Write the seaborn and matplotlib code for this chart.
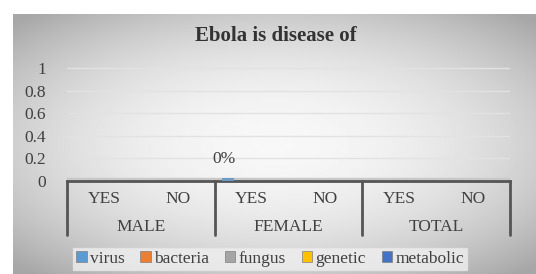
import numpy as np
import pandas as pd
import matplotlib
matplotlib.use("Agg")
import matplotlib.pyplot as plt
import seaborn as sns
from matplotlib.patches import Patch
import matplotlib.transforms as mtransforms

# data
groups = ["MALE", "FEMALE", "TOTAL"]
answers = ["YES", "NO"]
series = ["virus", "bacteria", "fungus", "genetic", "metabolic"]
virus = [0, 0, 0.025, 0, 0, 0]
bacteria = [0, 0, 0, 0, 0, 0]
fungus = [0, 0, 0, 0, 0, 0]
genetic = [0, 0, 0, 0, 0, 0]
metabolic = [0, 0, 0, 0, 0, 0]
colors = ["#5B9BD5", "#ED7D31", "#A5A5A5", "#FFC000", "#4472C4"]

cats = [g + " " + a for g in groups for a in answers]
rows = []
for name, vals in zip(series, [virus, bacteria, fungus, genetic, metabolic]):
    for c, v in zip(cats, vals):
        rows.append({"cat": c, "series": name, "value": v})
df = pd.DataFrame(rows)

sns.set_style("white")
plt.rcParams['font.family'] = ['Liberation Serif', 'DejaVu Serif']

fs = 12.5
fig = plt.figure(figsize=(5.36, 2.74), dpi=100)

# gray gradient panel behind everything
bg = fig.add_axes([13 / 536, 0, 523 / 536, 260 / 274], zorder=-10)
yy, xx = np.mgrid[-1:1:200j, -1:1:400j]
r = np.sqrt((xx * 0.85) ** 2 + (yy * 0.9) ** 2)
bg.imshow(0.97 - 0.22 * np.clip(r, 0, 1.2) ** 2, cmap="gray", vmin=0, vmax=1,
          aspect="auto", extent=[0, 1, 0, 1])
bg.set_axis_off()

ax = fig.add_axes([67 / 536, 1 - 181 / 274, 443 / 536, 121 / 274])
ax.patch.set_alpha(0)
sns.barplot(data=df, x="cat", y="value", hue="series", palette=colors,
            order=cats, hue_order=series, width=0.8, ax=ax, legend=False,
            edgecolor="none", linewidth=0, zorder=3)
ax.axhspan(0, 0.03, color="#c8c8c8", zorder=0.2)
ax.set_xlim(-0.5, 5.5)
ax.set_ylim(0, 1.07)
ax.set_yticks([0, 0.2, 0.4, 0.6, 0.8, 1])
ax.set_yticklabels(["0", "0.2", "0.4", "0.6", "0.8", "1"], fontsize=fs, color="#404040")
ax.tick_params(axis="y", length=0, pad=15)
ax.set_xticks([])
ax.set_xlabel("")
ax.set_ylabel("")
ax.grid(axis="y", color="#e2e2e2", linewidth=1)
for s in ["top", "right", "left"]:
    ax.spines[s].set_visible(False)
ax.spines["bottom"].set_color("#555555")
ax.spines["bottom"].set_linewidth(2)

# 0% label on the virus bar (third virus bar = FEMALE YES)
bar = ax.patches[2]
ax.text(bar.get_x() + bar.get_width() / 2 - 0.05, 0.12, "0%", ha="center",
        va="bottom", fontsize=fs, color="#404040")

# multi-level category axis
trans = mtransforms.blended_transform_factory(ax.transData, ax.transAxes)
for x in [-0.5, 1.5, 3.5, 5.5]:
    ax.plot([x, x], [0, -0.45], transform=trans, color="#555555", lw=2,
            clip_on=False)
for i, c in enumerate(cats):
    ax.text(i, -0.15, c.split()[1], transform=trans, ha="center", va="center",
            fontsize=fs, color="#404040")
for j, g in enumerate(groups):
    ax.text(2 * j + 0.5, -0.38, g, transform=trans, ha="center", va="center",
            fontsize=fs, color="#404040")

fig.text(276 / 536, 1 - 36 / 274, "Ebola is disease of", ha="center",
         va="center", fontsize=15, fontweight="bold", color="#333333")

handles = [Patch(facecolor=c, edgecolor="#7f7f7f", lw=0.5) for c in colors]
leg = fig.legend(handles, series, loc="center", bbox_to_anchor=(270 / 536, 1 - 259 / 274),
                 ncol=5, fontsize=fs, frameon=True, handlelength=0.6,
                 handleheight=0.6, handletextpad=0.2, columnspacing=0.9,
                 borderpad=0.2, fancybox=False)
leg.get_frame().set_facecolor("#f0f0f0")
leg.get_frame().set_edgecolor("#e6e6e6")
for t in leg.get_texts():
    t.set_color("#404040")

fig.savefig("out.png", dpi=100)
